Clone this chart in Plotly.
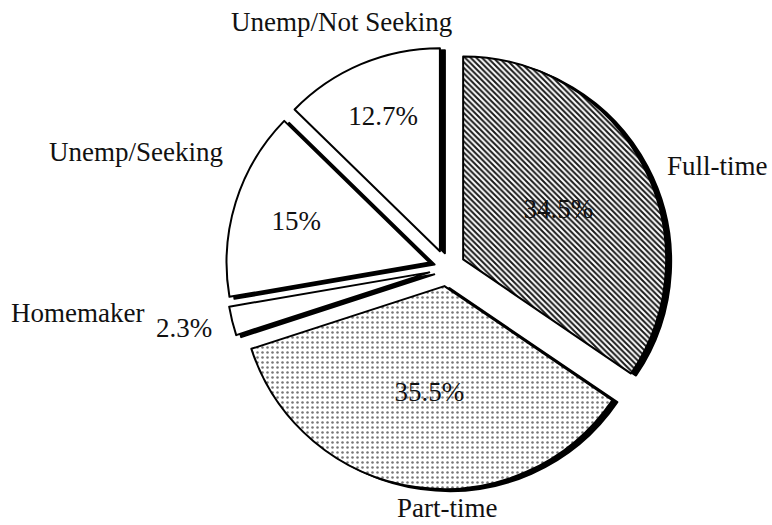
import plotly.graph_objects as go

# ---- data ----
labels = ["Full-time", "Part-time", "Homemaker", "Unemp/Seeking", "Unemp/Not Seeking"]
values = [34.5, 35.5, 2.3, 15.0, 12.7]
inside_pct = [True, True, False, True, True]

# ---- styling / layout ----
FONT = "Liberation Serif, Times New Roman, serif"
FS = 27
pull = 0.09
W, H = 772, 525
cx, cy, r = 447, 268, 203     # pie centre / radius in pixels
half = r * (1 + pull)
sdx, sdy = 5, 2               # shadow offset in pixels
# outer label text centres in pixels, same order as labels
label_pos = [(717, 166), (447, 508), (77, 313), (136, 152), (341, 22)]
outside_pct_pos = {2: (184, 328)}


def px2paper(x, y):
    return x / W, 1 - y / H


def dom(dx=0, dy=0):
    x0, y1 = px2paper(cx + dx - half, cy + dy - half)
    x1, y0 = px2paper(cx + dx + half, cy + dy + half)
    return dict(x=[x0, x1], y=[y0, y1])


pct_txt = [f"{v:g}%" for v in values]
main_text = [p if ins else "" for p, ins in zip(pct_txt, inside_pct)]

patterns = dict(
    shape=["\\", ".", "", "", ""],
    size=[4, 5, 8, 8, 8],
    solidity=[0.5, 0.2, 0.2, 0.2, 0.2],
    fgcolor=["#1a1a1a", "#777777", "#000000", "#000000", "#000000"],
    bgcolor=["#ffffff"] * 5,
)

fig = go.Figure()
# drop shadow
fig.add_trace(go.Pie(
    labels=labels, values=values, sort=False, direction="clockwise", rotation=0,
    pull=pull, domain=dom(sdx, sdy),
    marker=dict(colors=["#000000"] * 5, line=dict(color="#000000", width=2)),
    textinfo="none", hoverinfo="skip", showlegend=False,
))
# main pie
fig.add_trace(go.Pie(
    labels=labels, values=values, sort=False, direction="clockwise", rotation=0,
    pull=pull, domain=dom(),
    marker=dict(colors=["#ffffff"] * 5, line=dict(color="#000000", width=2),
                pattern=patterns),
    text=main_text, textinfo="text", textposition="inside",
    insidetextorientation="horizontal",
    textfont=dict(family=FONT, size=FS, color="#111111"),
    showlegend=False,
))

annotations = []
items = list(zip(labels, label_pos)) + [(pct_txt[i], p) for i, p in outside_pct_pos.items()]
for txt, (px, py) in items:
    ax, ay = px2paper(px, py)
    annotations.append(dict(
        text=txt, x=ax, y=ay, xref="paper", yref="paper",
        xanchor="center", yanchor="middle", showarrow=False,
        font=dict(family=FONT, size=FS, color="#111111"),
    ))

fig.update_layout(
    width=W, height=H,
    margin=dict(l=0, r=0, t=0, b=0),
    paper_bgcolor="white", plot_bgcolor="white",
    font=dict(family=FONT, size=FS, color="#111111"),
    uniformtext=dict(minsize=FS - 4, mode="show"),
    annotations=annotations,
)
fig.write_html(
    "out.html",
    config={"displayModeBar": False},
    post_script="document.body.style.margin='0';document.body.style.overflow='hidden';",
)
